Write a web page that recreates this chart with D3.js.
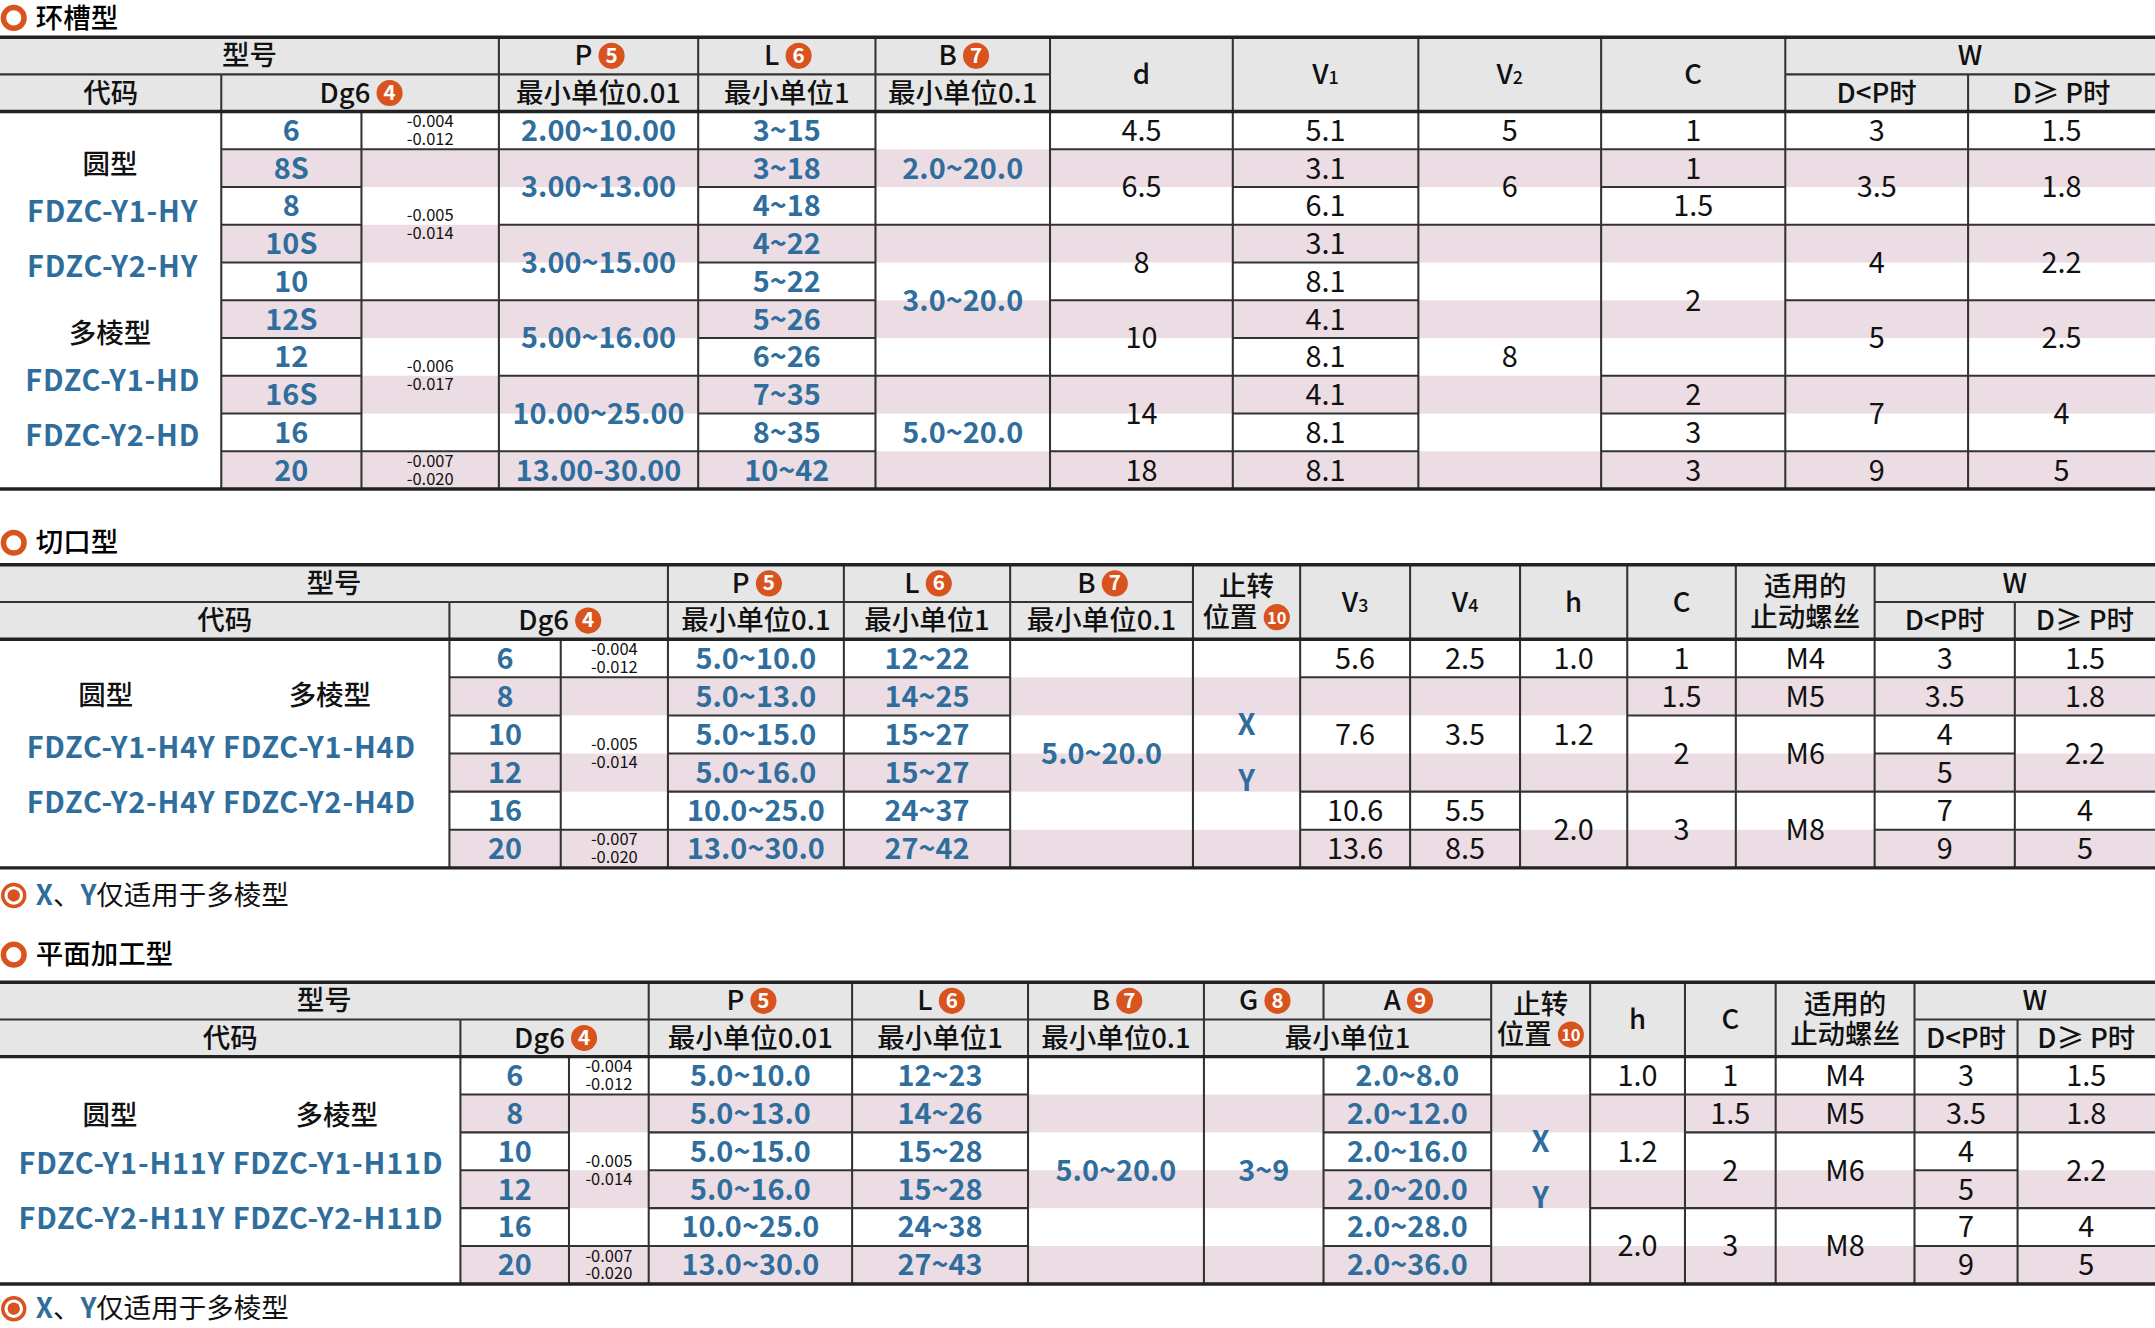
<!DOCTYPE html>
<html><head><meta charset="utf-8">
<script src="https://cdn.jsdelivr.net/npm/d3@7"></script>
<style>body{margin:0;background:#fff}svg{display:block}text{font-family:"Noto Sans CJK SC","Noto Sans",sans-serif}</style>
</head><body>
<script>
// ---------- data ----------
const sectionTitles = ["环槽型", "切口型", "平面加工型"];
const footnote = ["X", "、", "Y", "仅适用于多棱型"];

// Table 1 (环槽型)
const t1Sizes = ["6","8S","8","10S","10","12S","12","16S","16","20"];
const t1Tol = [[0,1,"-0.004|-0.012"],[1,4,"-0.005|-0.014"],[5,4,"-0.006|-0.017"],[9,1,"-0.007|-0.020"]];
const t1P = [[0,1,"2.00~10.00"],[1,2,"3.00~13.00"],[3,2,"3.00~15.00"],[5,2,"5.00~16.00"],[7,2,"10.00~25.00"],[9,1,"13.00-30.00"]];
const t1L = ["3~15","3~18","4~18","4~22","5~22","5~26","6~26","7~35","8~35","10~42"];
const t1B = [[0,3,"2.0~20.0"],[3,4,"3.0~20.0"],[7,3,"5.0~20.0"]];
const t1d = [[0,1,"4.5"],[1,2,"6.5"],[3,2,"8"],[5,2,"10"],[7,2,"14"],[9,1,"18"]];
const t1V1 = ["5.1","3.1","6.1","3.1","8.1","4.1","8.1","4.1","8.1","8.1"];
const t1V2 = [[0,1,"5"],[1,2,"6"],[3,7,"8"]];
const t1C = [[0,1,"1"],[1,1,"1"],[2,1,"1.5"],[3,4,"2"],[7,1,"2"],[8,1,"3"],[9,1,"3"]];
const t1W1 = [[0,1,"3"],[1,2,"3.5"],[3,2,"4"],[5,2,"5"],[7,2,"7"],[9,1,"9"]];
const t1W2 = [[0,1,"1.5"],[1,2,"1.8"],[3,2,"2.2"],[5,2,"2.5"],[7,2,"4"],[9,1,"5"]];
const t1Codes = ["圆型","FDZC-Y1-HY","FDZC-Y2-HY","多棱型","FDZC-Y1-HD","FDZC-Y2-HD"];

// Table 2 (切口型)
const t2Sizes = ["6","8","10","12","16","20"];
const t2Tol = [[0,1,"-0.004|-0.012"],[1,4,"-0.005|-0.014"],[5,1,"-0.007|-0.020"]];
const t2P = ["5.0~10.0","5.0~13.0","5.0~15.0","5.0~16.0","10.0~25.0","13.0~30.0"];
const t2L = ["12~22","14~25","15~27","15~27","24~37","27~42"];
const t2B = [[0,6,"5.0~20.0"]];
const t2Stop = [[0,6,"X|Y"]];
const t2V3 = [[0,1,"5.6"],[1,3,"7.6"],[4,1,"10.6"],[5,1,"13.6"]];
const t2V4 = [[0,1,"2.5"],[1,3,"3.5"],[4,1,"5.5"],[5,1,"8.5"]];
const t2h = [[0,1,"1.0"],[1,3,"1.2"],[4,2,"2.0"]];
const t2C = [[0,1,"1"],[1,1,"1.5"],[2,2,"2"],[4,2,"3"]];
const t2Screw = [[0,1,"M4"],[1,1,"M5"],[2,2,"M6"],[4,2,"M8"]];
const t2W1 = ["3","3.5","4","5","7","9"];
const t2W2 = [[0,1,"1.5"],[1,1,"1.8"],[2,2,"2.2"],[4,1,"4"],[5,1,"5"]];
const t2Codes = ["圆型","多棱型","FDZC-Y1-H4Y FDZC-Y1-H4D","FDZC-Y2-H4Y FDZC-Y2-H4D"];

// Table 3 (平面加工型)
const t3Sizes = ["6","8","10","12","16","20"];
const t3Tol = [[0,1,"-0.004|-0.012"],[1,4,"-0.005|-0.014"],[5,1,"-0.007|-0.020"]];
const t3P = ["5.0~10.0","5.0~13.0","5.0~15.0","5.0~16.0","10.0~25.0","13.0~30.0"];
const t3L = ["12~23","14~26","15~28","15~28","24~38","27~43"];
const t3B = [[0,6,"5.0~20.0"]];
const t3G = [[0,6,"3~9"]];
const t3A = ["2.0~8.0","2.0~12.0","2.0~16.0","2.0~20.0","2.0~28.0","2.0~36.0"];
const t3Stop = [[0,6,"X|Y"]];
const t3h = [[0,1,"1.0"],[1,3,"1.2"],[4,2,"2.0"]];
const t3C = [[0,1,"1"],[1,1,"1.5"],[2,2,"2"],[4,2,"3"]];
const t3Screw = [[0,1,"M4"],[1,1,"M5"],[2,2,"M6"],[4,2,"M8"]];
const t3W1 = ["3","3.5","4","5","7","9"];
const t3W2 = [[0,1,"1.5"],[1,1,"1.8"],[2,2,"2.2"],[4,1,"4"],[5,1,"5"]];
const t3Codes = ["圆型","多棱型","FDZC-Y1-H11Y FDZC-Y1-H11D","FDZC-Y2-H11Y FDZC-Y2-H11D"];

// ---------- drawing ----------
const W = 1568, H = 964;
const BLUE = "#2f6e9c", ORANGE = "#d9531e", PINK = "#ecdce3", HEAD = "#e6e6e6", LINE = "#333";
const svg = d3.select("body").append("svg")
  .attr("width", 2155).attr("height", 1328)
  .attr("viewBox", `0 0 ${W} ${H}`).attr("preserveAspectRatio", "none");

const each = arr => arr.map((v, i) => [i, 1, v]);

function badge(g, x, y, n) {
  g.append("circle").attr("cx", x).attr("cy", y).attr("r", 9.5).attr("fill", ORANGE);
  g.append("text").attr("x", x).attr("y", y + 5).attr("text-anchor", "middle")
    .attr("font-size", n > 9 ? 12 : 15).attr("font-weight", 700).attr("fill", "#fff").text(n);
}

function title(y, txt) {
  svg.append("circle").attr("cx", 10).attr("cy", y).attr("r", 7.5).attr("fill", "none")
    .attr("stroke", ORANGE).attr("stroke-width", 4);
  svg.append("text").attr("x", 26).attr("y", y + 7).attr("font-size", 20).attr("font-weight", 500).text(txt);
}

function foot(y) {
  svg.append("circle").attr("cx", 10).attr("cy", y).attr("r", 8).attr("fill", "none")
    .attr("stroke", ORANGE).attr("stroke-width", 2.5);
  svg.append("circle").attr("cx", 10).attr("cy", y).attr("r", 4.5).attr("fill", ORANGE);
  const t = svg.append("text").attr("x", 26).attr("y", y + 7).attr("font-size", 20);
  footnote.forEach((s, i) => t.append("tspan").attr("fill", (s === "X" || s === "Y") ? BLUE : "#111")
    .attr("font-weight", (s === "X" || s === "Y") ? 700 : 400).text(s));
}

function drawTable(cfg) {
  const g = svg.append("g");
  const cx = cfg.cols;
  const y = d3.scaleLinear().domain([0, cfg.n]).range([cfg.bodyTop, cfg.bodyBottom]);
  const hy = d3.scaleLinear().domain([0, 2]).range([cfg.top, cfg.bodyTop]);
  g.append("rect").attr("x", 0).attr("y", cfg.top).attr("width", W).attr("height", cfg.bodyTop - cfg.top).attr("fill", HEAD);
  for (let i = 1; i < cfg.n; i += 2)
    g.append("rect").attr("x", cx[1]).attr("y", y(i)).attr("width", W - cx[1]).attr("height", y(i + 1) - y(i)).attr("fill", PINK);
  cfg.header.forEach(([c0, c1, r0, rs, txt, b]) => {
    const x0 = cx[c0], x1 = cx[c1];
    const parts = txt.split("|");
    const midY = (hy(r0) + hy(r0 + rs)) / 2;
    parts.forEach((p, k) => {
      const ty = midY + 7 + (k - (parts.length - 1) / 2) * 22;
      const t = g.append("text").attr("x", (x0 + x1) / 2).attr("y", ty).attr("text-anchor", "middle")
        .attr("font-size", 20).attr("fill", "#111").attr("font-weight", 500);
      const sub = p.match(/^V(\d)$/);
      if (sub) { t.text("V"); t.append("tspan").attr("font-size", 13).text(sub[1]); }
      else t.text(p);
      if (b && k === parts.length - 1) {
        const w = t.node().getComputedTextLength();
        const shift = b > 9 ? 12 : 11;
        t.attr("x", (x0 + x1) / 2 - shift);
        badge(g, (x0 + x1) / 2 - shift + w / 2 + 14, ty - 7, b);
      }
    });
    if (r0 === 1) g.append("line").attr("x1", x0).attr("x2", x1).attr("y1", hy(1)).attr("y2", hy(1)).attr("stroke", LINE).attr("stroke-width", 1.5);
    if (c0 > 0) g.append("line").attr("x1", x0).attr("x2", x0).attr("y1", hy(r0)).attr("y2", hy(r0 + rs)).attr("stroke", LINE).attr("stroke-width", 1.5);
  });
  cfg.body.forEach(([c, spec, color, small]) => {
    const x0 = cx[c], x1 = cx[c + 1];
    spec.forEach(([r, s, txt]) => {
      if (r > 0) g.append("line").attr("x1", x0).attr("x2", x1).attr("y1", y(r)).attr("y2", y(r)).attr("stroke", LINE).attr("stroke-width", 1.5);
      if (!txt) return;
      const midY = (y(r) + y(r + s)) / 2;
      const parts = txt.split("|");
      if (small) {
        parts.forEach((p, k) => g.append("text").attr("x", (x0 + x1) / 2).attr("y", midY + 4 + (k - 0.5) * 13)
          .attr("text-anchor", "middle").attr("font-size", 12).attr("fill", "#111").text(p));
      } else if (parts.length === 2) {
        parts.forEach((p, k) => g.append("text").attr("x", (x0 + x1) / 2).attr("y", midY + 7 + (k - 0.5) * 41)
          .attr("text-anchor", "middle").attr("font-size", 21).attr("font-weight", 700).attr("fill", color).text(p));
      } else {
        g.append("text").attr("x", (x0 + x1) / 2).attr("y", midY + 7.5).attr("text-anchor", "middle")
          .attr("font-size", 21).attr("font-weight", color === BLUE ? 600 : 400).attr("fill", color).text(txt);
      }
    });
  });
  cx.slice(1, -1).forEach(x => g.append("line").attr("x1", x).attr("x2", x).attr("y1", cfg.bodyTop).attr("y2", cfg.bodyBottom).attr("stroke", LINE).attr("stroke-width", 1.5));
  cfg.codes.forEach(([txt, x, yy, col]) => g.append("text").attr("x", x).attr("y", yy + 7).attr("text-anchor", "middle")
    .attr("font-size", col === BLUE ? 21 : 20).attr("letter-spacing", col === BLUE ? 0.6 : 0)
    .attr("font-weight", col === BLUE ? 700 : 500).attr("fill", col).text(txt));
  [cfg.top, cfg.bodyTop, cfg.bodyBottom].forEach(yy => g.append("line").attr("x1", 0).attr("x2", W).attr("y1", yy).attr("y2", yy).attr("stroke", "#222").attr("stroke-width", 2.5));
}

title(13, sectionTitles[0]);
drawTable({
  top: 27, bodyTop: 81, bodyBottom: 355, n: 10,
  cols: [0,161,263,363,508,637,764,897,1032,1165,1299,1432,1568],
  header: [[0,3,0,1,"型号"],[3,4,0,1,"P",5],[4,5,0,1,"L",6],[5,6,0,1,"B",7],[6,7,0,2,"d"],[7,8,0,2,"V1"],[8,9,0,2,"V2"],[9,10,0,2,"C"],[10,12,0,1,"W"],
    [0,1,1,1,"代码"],[1,3,1,1,"Dg6",4],[3,4,1,1,"最小单位0.01"],[4,5,1,1,"最小单位1"],[5,6,1,1,"最小单位0.1"],[10,11,1,1,"D<P时"],[11,12,1,1,"D≥ P时"]],
  body: [[1,each(t1Sizes),BLUE],[2,t1Tol,"#111",true],[3,t1P,BLUE],[4,each(t1L),BLUE],[5,t1B,BLUE],[6,t1d,"#111"],[7,each(t1V1),"#111"],[8,t1V2,"#111"],[9,t1C,"#111"],[10,t1W1,"#111"],[11,t1W2,"#111"]],
  codes: [[t1Codes[0],80,119,"#111"],[t1Codes[1],82,154,BLUE],[t1Codes[2],82,194,BLUE],[t1Codes[3],80,242,"#111"],[t1Codes[4],82,277,BLUE],[t1Codes[5],82,317,BLUE]]
});

title(394, sectionTitles[1]);
drawTable({
  top: 410, bodyTop: 464, bodyBottom: 630, n: 6,
  cols: [0,327,408,486,614,735,868,946,1026,1106,1184,1263,1364,1466,1568],
  header: [[0,3,0,1,"型号"],[3,4,0,1,"P",5],[4,5,0,1,"L",6],[5,6,0,1,"B",7],[6,7,0,2,"止转|位置",10],[7,8,0,2,"V3"],[8,9,0,2,"V4"],[9,10,0,2,"h"],[10,11,0,2,"C"],[11,12,0,2,"适用的|止动螺丝"],[12,14,0,1,"W"],
    [0,1,1,1,"代码"],[1,3,1,1,"Dg6",4],[3,4,1,1,"最小单位0.1"],[4,5,1,1,"最小单位1"],[5,6,1,1,"最小单位0.1"],[12,13,1,1,"D<P时"],[13,14,1,1,"D≥ P时"]],
  body: [[1,each(t2Sizes),BLUE],[2,t2Tol,"#111",true],[3,each(t2P),BLUE],[4,each(t2L),BLUE],[5,t2B,BLUE],[6,t2Stop,BLUE],[7,t2V3,"#111"],[8,t2V4,"#111"],[9,t2h,"#111"],[10,t2C,"#111"],[11,t2Screw,"#111"],[12,each(t2W1),"#111"],[13,t2W2,"#111"]],
  codes: [[t2Codes[0],77,505,"#111"],[t2Codes[1],240,505,"#111"],[t2Codes[2],161,543,BLUE],[t2Codes[3],161,583,BLUE]]
});
foot(650);

title(693, sectionTitles[2]);
drawTable({
  top: 713, bodyTop: 767, bodyBottom: 932, n: 6,
  cols: [0,335,414,472,620,748,876,963,1085,1157,1226,1292,1393,1468,1568],
  header: [[0,3,0,1,"型号"],[3,4,0,1,"P",5],[4,5,0,1,"L",6],[5,6,0,1,"B",7],[6,7,0,1,"G",8],[7,8,0,1,"A",9],[8,9,0,2,"止转|位置",10],[9,10,0,2,"h"],[10,11,0,2,"C"],[11,12,0,2,"适用的|止动螺丝"],[12,14,0,1,"W"],
    [0,1,1,1,"代码"],[1,3,1,1,"Dg6",4],[3,4,1,1,"最小单位0.01"],[4,5,1,1,"最小单位1"],[5,6,1,1,"最小单位0.1"],[6,8,1,1,"最小单位1"],[12,13,1,1,"D<P时"],[13,14,1,1,"D≥ P时"]],
  body: [[1,each(t3Sizes),BLUE],[2,t3Tol,"#111",true],[3,each(t3P),BLUE],[4,each(t3L),BLUE],[5,t3B,BLUE],[6,t3G,BLUE],[7,each(t3A),BLUE],[8,t3Stop,BLUE],[9,t3h,"#111"],[10,t3C,"#111"],[11,t3Screw,"#111"],[12,each(t3W1),"#111"],[13,t3W2,"#111"]],
  codes: [[t3Codes[0],80,810,"#111"],[t3Codes[1],245,810,"#111"],[t3Codes[2],168,845,BLUE],[t3Codes[3],168,885,BLUE]]
});
foot(950);
</script>
</body></html>
